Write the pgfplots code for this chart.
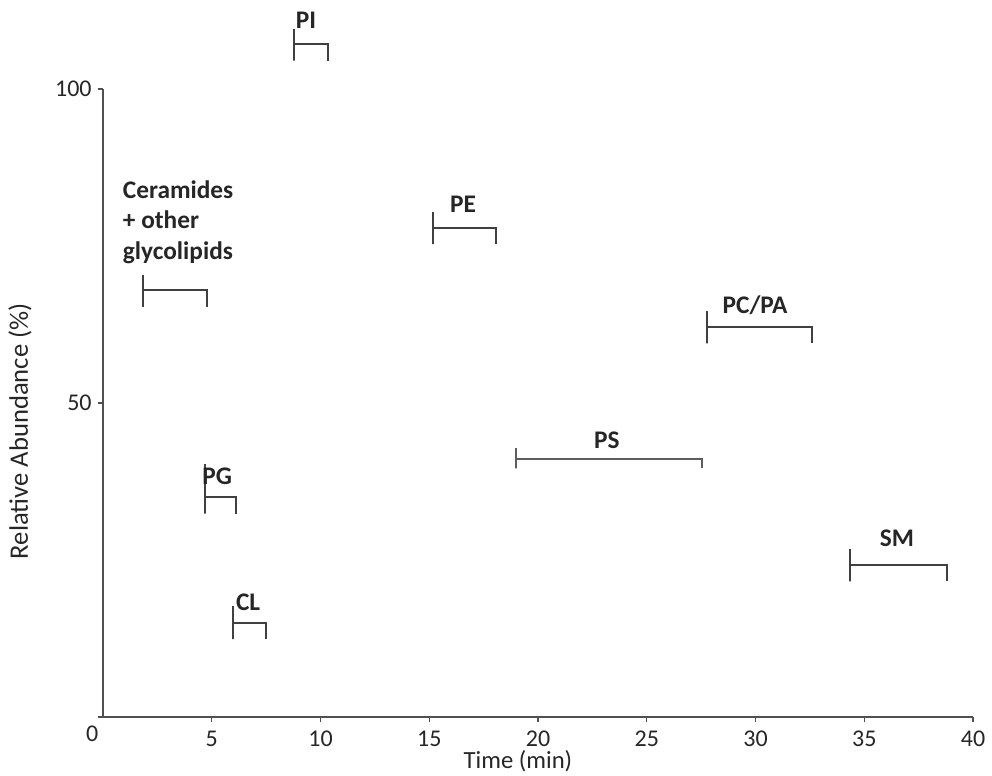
\documentclass[border=0pt]{standalone}
\usepackage{fontspec}
\setmainfont{Carlito}
\usepackage{pgfplots}
\pgfplotsset{compat=1.18}
\definecolor{brk}{HTML}{404040}
\definecolor{axc}{HTML}{505050}
\begin{document}
\begin{tikzpicture}
\begin{axis}[
  scale only axis, width=652.5pt, height=471pt,
  xmin=0, xmax=40, ymin=0, ymax=100,
  axis lines*=left,
  axis line style={axc, line width=1.4pt},
  clip=false,
  xtick={5,10,15,20,25,30,35,40},
  ytick={0,50,100},
  yticklabels={,50,100},
  tick align=outside,
  major tick length=4pt,
  tick style={axc, line width=1pt},
  /pgf/number format/assume math mode=true,
  ticklabel style={font=\fontsize{18}{20}\selectfont, text=black!85},
  xticklabel style={inner sep=0pt, yshift=-6pt},
  yticklabel style={xshift=-1pt},
  xlabel={Time (min)},
  ylabel={Relative Abundance (\%)},
  label style={text=black!85},
  xlabel style={font=\fontsize{18.5}{20}\selectfont, inner sep=0pt, at={(axis description cs:0.477,-0.071)}, anchor=center},
  ylabel style={font=\fontsize{20}{22}\selectfont, at={(axis description cs:-0.0954,0.455)}, anchor=center, rotate=0},
]
% brackets: left tick up and down, horizontal, right tick down
\addplot[brk, line width=1.4pt] coordinates {(1.84,70.4) (1.84,65.3) (1.84,68.0) (4.78,68.0) (4.78,65.3)};
\addplot[brk, line width=1.4pt] coordinates {(8.78,109.6) (8.78,104.5) (8.78,107.2) (10.34,107.2) (10.34,104.5)};
\addplot[brk, line width=1.4pt] coordinates {(4.69,40.3) (4.69,32.4) (4.69,35.0) (6.11,35.0) (6.11,32.4)};
\addplot[brk, line width=1.4pt] coordinates {(5.98,17.6) (5.98,12.4) (5.98,15.0) (7.49,15.0) (7.49,12.4)};
\addplot[brk, line width=1.4pt] coordinates {(15.18,80.4) (15.18,75.3) (15.18,77.9) (18.07,77.9) (18.07,75.3)};
\addplot[brk!85, line width=1.1pt] coordinates {(18.99,42.9) (18.99,39.6) (18.99,41.1) (27.54,41.1) (27.54,39.6)};
\addplot[brk, line width=1.4pt] coordinates {(27.77,64.6) (27.77,59.5) (27.77,62.1) (32.60,62.1) (32.60,59.5)};
\addplot[brk, line width=1.4pt] coordinates {(34.34,26.7) (34.34,21.6) (34.34,24.2) (38.80,24.2) (38.80,21.6)};
% labels
\begin{scope}[every node/.style={font=\fontsize{19}{23}\selectfont\bfseries, text=black!85}]
\node at (axis cs:9.33,111.0) {PI};
\node at (axis cs:16.55,81.7) {PE};
\node[anchor=west, align=left] at (axis cs:0.70,78.8) {Ceramides\\+ other\\glycolipids};
\node at (axis cs:5.25,38.4) {PG};
\node at (axis cs:6.67,18.3) {CL};
\node at (axis cs:29.98,65.6) {PC/PA};
\node at (axis cs:23.17,44.1) {PS};
\node at (axis cs:36.5,28.5) {SM};
\end{scope}
\node[font=\fontsize{18}{20}\selectfont, text=black!85] at (axis cs:-0.5,-2.6) {0};
\coordinate (bl) at (rel axis cs:0,0);
\coordinate (tr) at (rel axis cs:1,1);
\end{axis}
\pgfresetboundingbox
\path ([shift={(-77.25pt,-43.5pt)}]bl) rectangle ([shift={(14.25pt,66.75pt)}]tr);
\end{tikzpicture}
\end{document}
